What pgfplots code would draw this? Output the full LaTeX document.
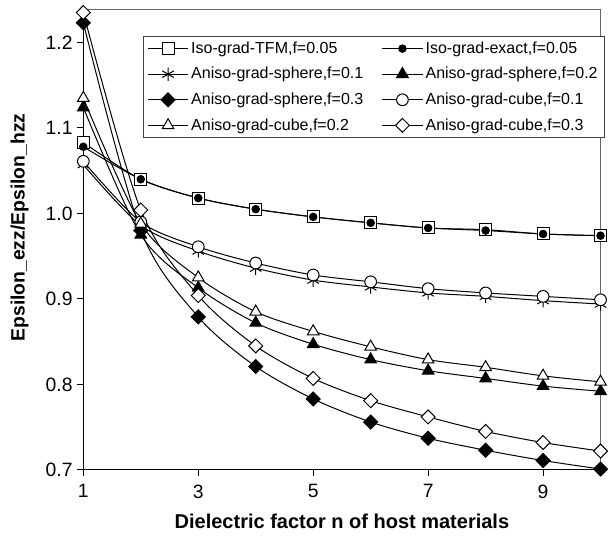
\documentclass[border=0pt]{standalone}
\usepackage{fontspec}
\setmainfont{Liberation Sans}
\usepackage{pgfplots}
\pgfplotsset{compat=1.18}

\begin{document}
\begin{tikzpicture}
\begin{axis}[
 name=ax,
 scale only axis,
 width=388pt, height=345pt,
 xmin=1, xmax=10, ymin=0.7, ymax=1.238,
 xtick={1,3,5,7,9},
 ytick={0.7,0.8,0.9,1.0,1.1,1.2},
 yticklabel style={/pgf/number format/.cd, fixed, fixed zerofill, precision=1},
 /pgf/number format/assume math mode=true,
 axis x line*=bottom, axis y line*=left,
 axis line style={-, black, line width=0.75pt},
 tick align=outside, major tick length=4.5pt,
 tick style={black, line width=0.75pt},
 ticklabel style={font=\fontsize{14.5}{16}\selectfont},
 xticklabel style={yshift=-3pt},
 xlabel={Dielectric factor n of host materials},
 ylabel={Epsilon\_ezz/Epsilon\_hzz},
 every axis x label/.style={at={(ticklabel cs:0.5,5pt)}, anchor=near ticklabel},
 every axis y label/.style={at={(ticklabel cs:0.527,6pt)}, rotate=90, anchor=near ticklabel},
 xlabel style={font=\fontsize{15}{18}\selectfont\bfseries},
 ylabel style={font=\fontsize{14.5}{18}\selectfont\bfseries},
 clip=false,
 legend columns=2,
 legend cell align=left,
 legend style={at={(0.1155,0.9435)}, anchor=north west, draw=black!75, line width=0.75pt,
   font=\fontsize{12}{14}\selectfont, row sep=5pt,
   /tikz/every even column/.append style={column sep=12pt}},
 legend image code/.code={\draw[mark repeat=2,mark phase=2] plot coordinates {(0pt,0pt) (15pt,0pt) (30pt,0pt)};},
 every axis plot/.append style={black, line width=0.75pt, smooth, tension=0.5},
]
\draw[black!60, line width=0.75pt] (rel axis cs:0,1) -- (rel axis cs:1,1) -- (rel axis cs:1,0);

\addplot[mark=square*, mark size=4.5pt, mark options={solid, fill=white}] coordinates {
(1,1.083) (2,1.040) (3,1.018) (4,1.005) (5,0.996) (6,0.989) (7,0.983) (8,0.981) (9,0.976) (10,0.974)};
\addlegendentry{Iso-grad-TFM,f=0.05}
\addplot[mark=*, mark size=2.8pt, mark options={solid, fill=black}] coordinates {
(1,1.078) (2,1.040) (3,1.018) (4,1.005) (5,0.996) (6,0.989) (7,0.983) (8,0.980) (9,0.976) (10,0.974)};
\addlegendentry{Iso-grad-exact,f=0.05}
\addplot[mark=asterisk, mark size=5pt, mark options={solid}] coordinates {
(1,1.057) (2,0.986) (3,0.956) (4,0.936) (5,0.922) (6,0.914) (7,0.907) (8,0.903) (9,0.898) (10,0.894)};
\addlegendentry{Aniso-grad-sphere,f=0.1}
\addplot[mark=triangle*, mark size=5pt, mark options={solid, fill=black}] coordinates {
(1,1.124) (2,0.975) (3,0.913) (4,0.872) (5,0.847) (6,0.829) (7,0.816) (8,0.807) (9,0.798) (10,0.792)};
\addlegendentry{Aniso-grad-sphere,f=0.2}
\addplot[mark=square*, mark size=3.7pt, mark options={solid, fill=black, rotate=45}] coordinates {
(1,1.223) (2,0.980) (3,0.879) (4,0.821) (5,0.783) (6,0.756) (7,0.737) (8,0.723) (9,0.711) (10,0.701)};
\addlegendentry{Aniso-grad-sphere,f=0.3}
\addplot[mark=*, mark size=4.4pt, mark options={solid, fill=white}] coordinates {
(1,1.061) (2,0.990) (3,0.961) (4,0.942) (5,0.928) (6,0.920) (7,0.912) (8,0.907) (9,0.903) (10,0.899)};
\addlegendentry{Aniso-grad-cube,f=0.1}
\addplot[mark=triangle*, mark size=5pt, mark options={solid, fill=white}] coordinates {
(1,1.135) (2,0.988) (3,0.925) (4,0.885) (5,0.862) (6,0.844) (7,0.829) (8,0.820) (9,0.810) (10,0.803)};
\addlegendentry{Aniso-grad-cube,f=0.2}
\addplot[mark=square*, mark size=3.7pt, mark options={solid, fill=white, rotate=45}] coordinates {
(1,1.235) (2,1.004) (3,0.904) (4,0.845) (5,0.807) (6,0.781) (7,0.762) (8,0.745) (9,0.732) (10,0.722)};
\addlegendentry{Aniso-grad-cube,f=0.3}
\end{axis}
\path (ax.south west) ++(-62.5pt,-51.75pt) coordinate (bl);
\path (ax.north east) ++(5.6pt,7.5pt) coordinate (tr);
\path (bl) rectangle (tr);
\end{tikzpicture}
\end{document}
